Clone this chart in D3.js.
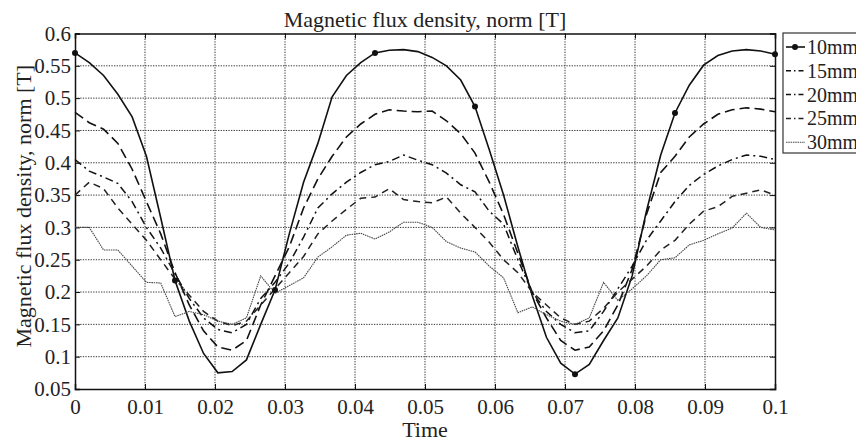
<!DOCTYPE html>
<html>
<head>
<meta charset="utf-8">
<script src="https://cdn.jsdelivr.net/npm/d3@7"></script>
<style>
  body { margin: 0; background: #fff; }
  text { font-family: "Liberation Serif", "Times New Roman", serif; fill: #222; }
</style>
</head>
<body>
<svg width="856" height="441"></svg>
<script>
// 50 samples over 0..0.1 s
var time = d3.range(50).map(function(i) { return i * 0.1 / 49; });

var b10 = [0.570,0.555,0.535,0.506,0.471,0.410,0.315,0.218,0.155,0.105,
           0.075,0.077,0.095,0.150,0.203,0.290,0.370,0.430,0.502,0.535,
           0.555,0.570,0.574,0.575,0.572,0.563,0.550,0.528,0.487,0.420,
           0.350,0.270,0.195,0.130,0.090,0.073,0.088,0.125,0.160,0.225,
           0.325,0.412,0.477,0.520,0.551,0.566,0.573,0.575,0.573,0.568];
var b15 = [0.478,0.462,0.452,0.430,0.390,0.340,0.290,0.230,0.180,0.140,
           0.115,0.110,0.125,0.180,0.225,0.270,0.330,0.375,0.410,0.440,
           0.460,0.475,0.482,0.480,0.479,0.480,0.465,0.445,0.415,0.370,
           0.320,0.260,0.200,0.160,0.125,0.110,0.115,0.140,0.180,0.235,
           0.320,0.385,0.410,0.440,0.460,0.475,0.482,0.485,0.483,0.479];
var b20 = [0.405,0.387,0.378,0.368,0.340,0.300,0.268,0.228,0.190,0.160,
           0.142,0.137,0.150,0.190,0.215,0.245,0.285,0.330,0.352,0.370,
           0.385,0.397,0.402,0.412,0.404,0.397,0.384,0.366,0.355,0.325,
           0.305,0.250,0.200,0.170,0.150,0.137,0.140,0.170,0.205,0.240,
           0.280,0.310,0.340,0.365,0.382,0.395,0.405,0.412,0.410,0.405];
var b25 = [0.350,0.370,0.360,0.330,0.305,0.280,0.250,0.220,0.195,0.170,
           0.155,0.148,0.155,0.180,0.205,0.230,0.255,0.290,0.310,0.328,
           0.345,0.347,0.360,0.343,0.340,0.338,0.347,0.322,0.300,0.277,
           0.250,0.230,0.200,0.180,0.160,0.150,0.155,0.175,0.200,0.220,
           0.240,0.265,0.280,0.305,0.325,0.332,0.348,0.353,0.358,0.350];
var b30 = [0.300,0.300,0.265,0.265,0.240,0.215,0.214,0.162,0.170,0.165,
           0.155,0.150,0.160,0.225,0.198,0.210,0.222,0.254,0.270,0.288,
           0.291,0.282,0.293,0.308,0.308,0.300,0.278,0.268,0.262,0.240,
           0.222,0.168,0.177,0.165,0.155,0.150,0.160,0.215,0.187,0.205,
           0.225,0.250,0.253,0.273,0.280,0.290,0.299,0.322,0.300,0.296];

var seriesNames = ["10mm", "15mm", "20mm", "25mm", "30mm"];
var markerIdx = [0, 7, 14, 21, 28, 35, 42, 49];
var xTicks = [0, 0.01, 0.02, 0.03, 0.04, 0.05, 0.06, 0.07, 0.08, 0.09, 0.1];
var yTicks = [0.05, 0.1, 0.15, 0.2, 0.25, 0.3, 0.35, 0.4, 0.45, 0.5, 0.55, 0.6];

var svg = d3.select("svg"),
    margin = {top: 33.5, right: 81, bottom: 52, left: 75},
    width = +svg.attr("width") - margin.left - margin.right,
    height = +svg.attr("height") - margin.top - margin.bottom;

var x = d3.scaleLinear().domain([0, 0.1]).range([0, width]),
    y = d3.scaleLinear().domain([0.05, 0.6]).range([height, 0]);

var styles = [
  {dash: null,          width: 1.6, color: "#111"},
  {dash: "10,5",        width: 1.6, color: "#111"},
  {dash: "8,4,2,4",     width: 1.5, color: "#111"},
  {dash: "7,5",         width: 1.5, color: "#222"},
  {dash: "1.5,0.8",     width: 1.1, color: "#444"}
];

var g = svg.append("g")
    .attr("transform", "translate(" + margin.left + "," + margin.top + ")");

// dotted grid
g.append("g").selectAll("line").data(xTicks.slice(1, -1)).enter().append("line")
    .attr("x1", function(d) { return x(d); }).attr("x2", function(d) { return x(d); })
    .attr("y1", 0).attr("y2", height)
    .attr("stroke", "#333").attr("stroke-width", 1).attr("stroke-dasharray", "1.3,1.3");
g.append("g").selectAll("line").data(yTicks.slice(1, -1)).enter().append("line")
    .attr("y1", function(d) { return y(d); }).attr("y2", function(d) { return y(d); })
    .attr("x1", 0).attr("x2", width)
    .attr("stroke", "#333").attr("stroke-width", 1).attr("stroke-dasharray", "1.3,1.3");

// axes with inward ticks
g.append("g")
    .attr("transform", "translate(0," + height + ")")
    .call(d3.axisBottom(x).tickValues(xTicks).tickSize(-5).tickPadding(10)
      .tickFormat(function(d) { return d3.format("~g")(d); }));
g.append("g")
    .call(d3.axisLeft(y).tickValues(yTicks).tickSize(-5).tickPadding(4)
      .tickFormat(function(d) { return d3.format("~g")(d); }));
g.append("g").call(d3.axisTop(x).tickValues(xTicks).tickSize(-5).tickFormat(""));
g.append("g").attr("transform", "translate(" + width + ",0)")
    .call(d3.axisRight(y).tickValues(yTicks).tickSize(-5).tickFormat(""));

g.selectAll(".domain").attr("stroke", "#111").attr("stroke-width", 1.5);
g.selectAll(".tick line").attr("stroke", "#111");
g.selectAll(".tick text").attr("font-size", 21).attr("font-family", "Liberation Serif").attr("fill", "#222");

// curves
var data = [b10, b15, b20, b25, b30];
var line = d3.line()
    .x(function(d, i) { return x(time[i]); })
    .y(function(d) { return y(d); });

g.selectAll(".curve").data(data).enter().append("path")
    .attr("class", "curve")
    .attr("d", line)
    .attr("fill", "none")
    .attr("stroke", function(d, i) { return styles[i].color; })
    .attr("stroke-width", function(d, i) { return styles[i].width; })
    .attr("stroke-dasharray", function(d, i) { return styles[i].dash; });

g.selectAll(".mark").data(markerIdx).enter().append("circle")
    .attr("cx", function(i) { return x(time[i]); })
    .attr("cy", function(i) { return y(b10[i]); })
    .attr("r", 3).attr("fill", "#111");

// titles
svg.append("text").attr("x", margin.left + width / 2).attr("y", 27)
    .attr("text-anchor", "middle").attr("font-size", 22)
    .text("Magnetic flux density, norm [T]");
svg.append("text").attr("x", margin.left + width / 2).attr("y", 437)
    .attr("text-anchor", "middle").attr("font-size", 22)
    .text("Time");
svg.append("text")
    .attr("transform", "translate(31," + (margin.top + height / 2 - 5) + ") rotate(-90)")
    .attr("text-anchor", "middle").attr("font-size", 22)
    .text("Magnetic flux density, norm [T]");

// legend (runs off the right edge, as in the source)
var lg = svg.append("g").attr("transform", "translate(783,33)");
lg.append("rect").attr("width", 90).attr("height", 120)
    .attr("fill", "#fff").attr("stroke", "#333").attr("stroke-width", 1.2);
var item = lg.selectAll(".item").data(seriesNames).enter().append("g")
    .attr("transform", function(d, i) { return "translate(0," + (14 + i * 23.8) + ")"; });
item.append("line").attr("x1", 3).attr("x2", 22).attr("y1", 0).attr("y2", 0)
    .attr("stroke", function(d, i) { return styles[i].color; })
    .attr("stroke-width", function(d, i) { return styles[i].width; })
    .attr("stroke-dasharray", function(d, i) { return styles[i].dash ? (i === 4 ? "1.5,0.8" : "5,3,1.5,3") : null; });
item.filter(function(d, i) { return i === 0; }).append("circle")
    .attr("cx", 12).attr("cy", 0).attr("r", 3).attr("fill", "#111");
item.append("text").attr("x", 24).attr("y", 7).attr("font-size", 20)
    .text(function(d) { return d; });
</script>
</body>
</html>
